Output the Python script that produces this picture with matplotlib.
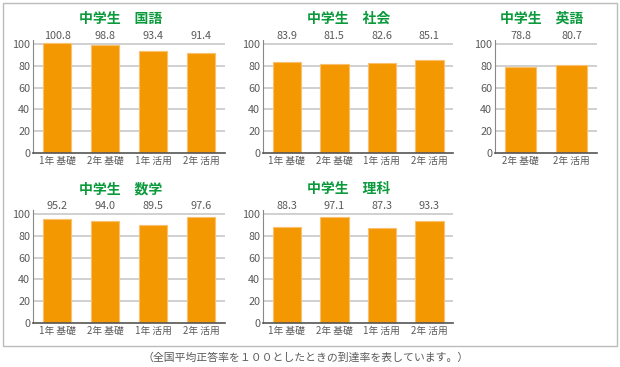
import numpy as np
import matplotlib
matplotlib.use('Agg')
import matplotlib.pyplot as plt
from matplotlib.patches import Rectangle

plt.rcParams['font.family'] = ['Noto Sans CJK JP', 'DejaVu Sans']

# Datos
cats4 = ['1年 基礎', '2年 基礎', '1年 活用', '2年 活用']
cats2 = ['2年 基礎', '2年 活用']
kokugo = [100.8, 98.8, 93.4, 91.4]
shakai = [83.9, 81.5, 82.6, 85.1]
eigo = [78.8, 80.7]
sugaku = [95.2, 94.0, 89.5, 97.6]
rika = [88.3, 97.1, 87.3, 93.3]

W, H = 620, 367
fig = plt.figure(figsize=(W / 100, H / 100), dpi=100)

naranja = '#F39800'
verde = '#0A9A3C'
gris = '#5a5a5a'

def px_axes(x0, x1, y_base, y_top):
    # y_base = pixel del valor 0, y_top = pixel del valor 100
    h100 = y_base - y_top
    alto = h100 * 1.15
    return fig.add_axes([x0 / W, 1 - y_base / H, (x1 - x0) / W, alto / H])

def panel(x0, x1, y_base, y_top, cats, vals):
    ax = px_axes(x0, x1, y_base, y_top)
    pos = np.arange(len(cats))
    ax.set_ylim(0, 115)
    ax.set_xlim(-0.5, len(cats) - 0.5)
    ax.set_yticks([0, 20, 40, 60, 80, 100])
    for g in [20, 40, 60, 80, 100]:
        ax.axhline(g, color='#c8c8c8', linewidth=1.2, zorder=0)
    ax.bar(pos, vals, width=0.6, color=naranja, edgecolor='#F8C070', linewidth=0.8, zorder=2)
    for p, v in zip(pos, vals):
        ax.text(p, 107.5, f'{v:.1f}', ha='center', va='center', fontsize=7.8, color=gris)
    ax.set_xticks(pos)
    ax.set_xticklabels(cats, fontsize=7, color=gris)
    ax.tick_params(axis='y', labelsize=7.8, labelcolor=gris, length=0, pad=2)
    ax.tick_params(axis='x', length=0, pad=2)
    for s in ['top', 'right']:
        ax.spines[s].set_visible(False)
    ax.spines['left'].set_color('#888888')
    ax.spines['left'].set_bounds(0, 104)
    ax.spines['bottom'].set_color('#555555')
    ax.spines['bottom'].set_linewidth(1.2)
    ax.patch.set_alpha(0)
    return ax

panel(33, 225, 153, 44, cats4, kokugo)
panel(263, 453, 153, 44, cats4, shakai)
panel(495, 597, 153, 44, cats2, eigo)
panel(33, 225, 323, 214, cats4, sugaku)
panel(263, 453, 323, 214, cats4, rika)

titulos = [(121, 19, '中学生　国語'), (349, 19, '中学生　社会'), (542, 19, '中学生　英語'),
           (121, 189, '中学生　数学'), (349, 189, '中学生　理科')]
for x, y, t in titulos:
    fig.text(x / W, 1 - y / H, t, ha='center', va='center', fontsize=10,
             fontweight='bold', color=verde)

fig.patches.append(Rectangle((3 / W, 1 - 346 / H), 614 / W, 343 / H, transform=fig.transFigure,
                             fill=False, edgecolor='#bbbbbb', linewidth=1.0))

fig.text(306 / W, 1 - 358 / H, '（全国平均正答率を１００としたときの到達率を表しています。）',
         ha='center', va='center', fontsize=7.8, color=gris)

fig.savefig('out.png', dpi=100)
